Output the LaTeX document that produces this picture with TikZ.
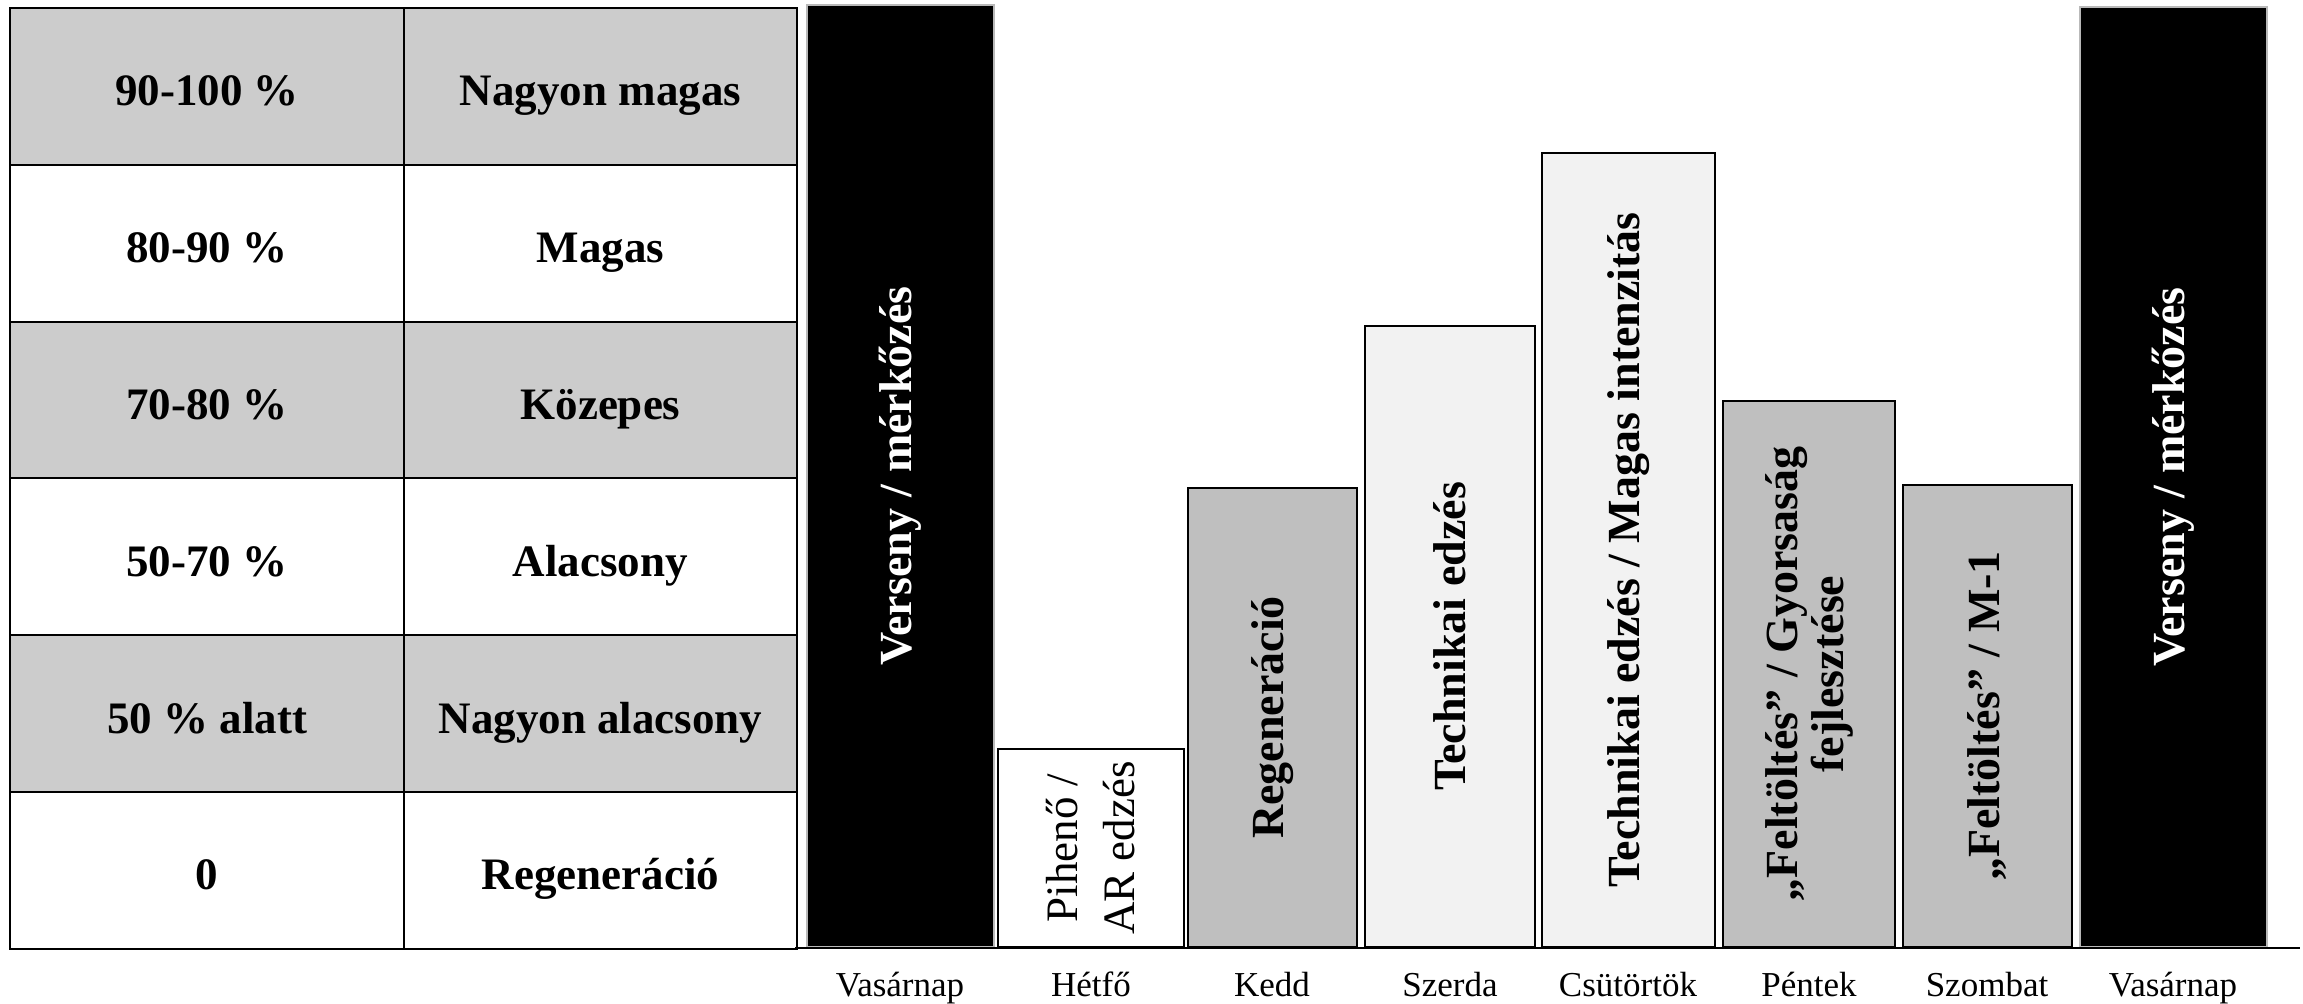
\documentclass[tikz,border=0pt]{standalone}
\usepackage{fontspec}
\setmainfont{Liberation Serif}
\definecolor{rowgrey}{HTML}{CCCCCC}
\definecolor{midgrey}{HTML}{BFBFBF}
\definecolor{palegrey}{HTML}{F2F2F2}

\begin{document}
\begin{tikzpicture}[x=0.5pt,y=-0.5pt,
  cellA/.style={draw=black, line width=1pt, inner sep=0pt, outer sep=0pt,
    minimum width=197pt, minimum height=78.4pt, anchor=north west,
    text height=19.5pt, text depth=0pt,
    font=\fontsize{22.5}{27}\selectfont\bfseries},
  cellB/.style={cellA, minimum width=196.5pt},
  shaded/.style={fill=rowgrey},
  plain/.style={fill=white},
  bar/.style={draw=black, line width=1.2pt, inner sep=0pt, outer sep=0pt, anchor=south west},
  blackbar/.style={fill=black, draw=gray!55, line width=0.6pt, inner sep=0pt, outer sep=0pt, anchor=south west},
  bartext/.style={rotate=90, align=center, inner sep=0pt, font=\fontsize{23}{23}\selectfont\bfseries},
  daylabel/.style={anchor=base, inner sep=0pt, font=\fontsize{17.5}{20}\selectfont}]

\useasboundingbox (0,0) rectangle (2303,1003);

% intensity table
\node[cellA, shaded] (r1a) at (10,8)     {90-100 \%};
\node[cellB, shaded] (r1b) at (404,8)    {Nagyon magas};
\node[cellA, plain]  (r2a) at (10,164.8) {80-90 \%};
\node[cellB, plain]  (r2b) at (404,164.8){Magas};
\node[cellA, shaded] (r3a) at (10,321.6) {70-80 \%};
\node[cellB, shaded] (r3b) at (404,321.6){Közepes};
\node[cellA, plain]  (r4a) at (10,478.4) {50-70 \%};
\node[cellB, plain]  (r4b) at (404,478.4){Alacsony};
\node[cellA, shaded] (r5a) at (10,635.2) {50 \% alatt};
\node[cellB, shaded] (r5b) at (404,635.2){Nagyon alacsony};
\node[cellA, plain]  (r6a) at (10,792)   {0};
\node[cellB, plain]  (r6b) at (404,792)  {Regeneráció};

% weekly load bars
\node[blackbar, minimum width=93.5pt, minimum height=471pt] (vas1) at (807,947) {};
\node[bar, fill=white, minimum width=93pt, minimum height=99pt] (het) at (998,947) {};
\node[bar, fill=midgrey, minimum width=84.5pt, minimum height=229.5pt] (kedd) at (1188,947) {};
\node[bar, fill=palegrey, minimum width=85pt, minimum height=310.5pt] (sze) at (1365,947) {};
\node[bar, fill=palegrey, minimum width=86.5pt, minimum height=397pt] (csu) at (1542,947) {};
\node[bar, fill=midgrey, minimum width=86pt, minimum height=273pt] (pen) at (1723,947) {};
\node[bar, fill=midgrey, minimum width=84.5pt, minimum height=231pt] (szo) at (1903,947) {};
\node[blackbar, minimum width=93.5pt, minimum height=470pt] (vas2) at (2080,947) {};

% bar captions
\node[bartext, text=white] (tvas1) at (vas1.center) {Verseny / mérkőzés};
\node[bartext, font=\fontsize{22.5}{28.5}\selectfont] (thet) at (het.center) {Pihenő /\\AR edzés};
\node[bartext] (tkedd) at (kedd.center) {Regeneráció};
\node[bartext] (tsze) at (sze.center) {Technikai edzés};
\node[bartext] (tcsu) at (csu.center) {Technikai edzés / Magas intenzitás};
\node[bartext] (tpen) at (pen.center) {„Feltöltés” / Gyorsaság\\fejlesztése};
\node[bartext] (tszo) at (szo.center) {„Feltöltés” / M-1};
\node[bartext, text=white] (tvas2) at (vas2.center) {Verseny / mérkőzés};

% base line
\coordinate (axisL) at (795,948);
\coordinate (axisR) at (2300,948);
\draw[line width=1.2pt] (axisL) -- (axisR);

% day names
\node[daylabel] (dvas1) at (900,996)  {Vasárnap};
\node[daylabel] (dhet)  at (1091,996) {Hétfő};
\node[daylabel] (dkedd) at (1272,996) {Kedd};
\node[daylabel] (dsze)  at (1450,996) {Szerda};
\node[daylabel] (dcsu)  at (1628,996) {Csütörtök};
\node[daylabel] (dpen)  at (1809,996) {Péntek};
\node[daylabel] (dszo)  at (1987,996) {Szombat};
\node[daylabel] (dvas2) at (2173,996) {Vasárnap};
\end{tikzpicture}
\end{document}
